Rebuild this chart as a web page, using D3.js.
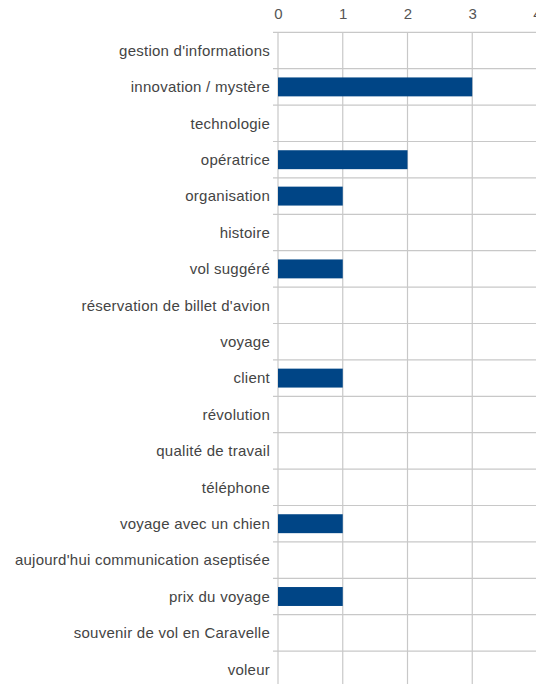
<!DOCTYPE html>
<html><head><meta charset="utf-8">
<script src="https://cdn.jsdelivr.net/npm/d3@7"></script>
<style>body{margin:0;background:#fff;}svg{display:block;}</style>
</head><body>
<svg id="c" width="536" height="684"></svg>
<script>
const categories = ["gestion d'informations","innovation / mystère","technologie","opératrice","organisation","histoire","vol suggéré","réservation de billet d'avion","voyage","client","révolution","qualité de travail","téléphone","voyage avec un chien","aujourd'hui communication aseptisée","prix du voyage","souvenir de vol en Caravelle","voleur"];
const values = [0,3,0,2,1,0,1,0,0,1,0,0,0,1,0,1,0,0];
const tickValues = [0,1,2,3,4];

(function(){
const svg = d3.select("#c");
const mLeft = 278, mRight = 537, mTop = 32.3, bandH = 36.4;
const x = d3.scaleLinear().domain([0,4]).range([mLeft,mRight]);
const y = d3.scaleBand().domain(categories).range([mTop, mTop + bandH*categories.length]);

const grid = svg.append("g");
grid.selectAll("line.v").data(tickValues).join("line")
  .attr("x1", d=>x(d)).attr("x2", d=>x(d))
  .attr("y1", mTop).attr("y2", y.range()[1])
  .attr("stroke", "#c8c8c8").attr("stroke-width", 1.2);
const bounds = categories.map(c=>y(c)).concat([y.range()[1]]);
grid.selectAll("line.h").data(bounds).join("line")
  .attr("x1", mLeft-5).attr("x2", 536)
  .attr("y1", d=>d).attr("y2", d=>d)
  .attr("stroke", "#c8c8c8").attr("stroke-width", 1.2);

const barH = bandH*0.52;
svg.append("g").selectAll("rect").data(categories.map((c,i)=>({c, v: values[i]})).filter(d=>d.v>0)).join("rect")
  .attr("x", x(0)).attr("y", d=>y(d.c) + (bandH-barH)/2)
  .attr("width", d=>x(d.v)-x(0)).attr("height", barH)
  .attr("fill", "#004586");

const axis = d3.axisTop(x).tickValues(tickValues).tickSize(0).tickFormat(d3.format("d"));
const ag = svg.append("g").attr("transform", `translate(0,${mTop-10})`).call(axis);
ag.select(".domain").remove();
ag.selectAll("text").attr("font-family","Liberation Sans, Arial, sans-serif").attr("font-size",15).attr("fill","#555").attr("dy","0");

svg.append("g").selectAll("text").data(categories).join("text")
  .attr("x", 270).attr("y", d=>y(d)+bandH/2).attr("dy","0.35em")
  .attr("text-anchor","end")
  .attr("font-family","Liberation Sans, Arial, sans-serif").attr("font-size",15)
  .attr("letter-spacing","0.25px")
  .attr("fill","#444").text(d=>d);
})();
</script>
</body></html>
